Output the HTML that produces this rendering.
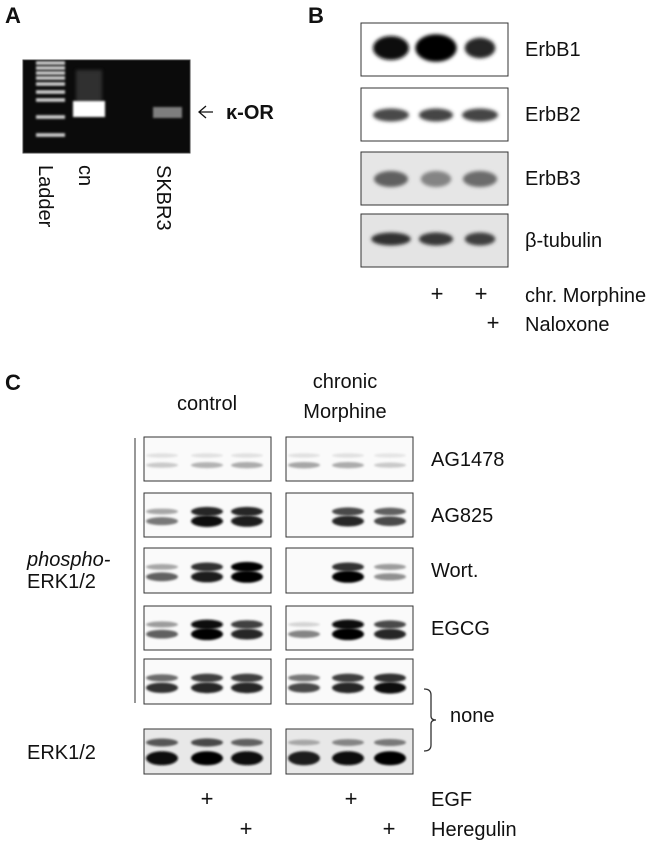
<!DOCTYPE html>
<html><head><meta charset="utf-8"><style>
html,body{margin:0;padding:0;background:#fff}
svg{display:block}
text{font-family:"Liberation Sans",Arial,sans-serif;fill:#111}
</style></head><body>
<svg id="fig" width="662" height="847" viewBox="0 0 662 847" xmlns="http://www.w3.org/2000/svg">
<defs>
<filter id="b2" x="-50%" y="-100%" width="200%" height="300%"><feGaussianBlur stdDeviation="1.8"/></filter>
<filter id="b1" x="-50%" y="-100%" width="200%" height="300%"><feGaussianBlur stdDeviation="1.1"/></filter>
</defs>
<!-- Panel A -->
<text x="5" y="23" font-size="22" font-weight="bold">A</text>
<rect x="23" y="60" width="167" height="93" fill="#0b0b0b" stroke="#444"/>
<g id="gelBands"></g>
<text transform="translate(39,165) rotate(90)" font-size="20">Ladder</text>
<text transform="translate(79,165) rotate(90)" font-size="20">cn</text>
<text transform="translate(157,165) rotate(90)" font-size="20">SKBR3</text>
<path d="M213,112 H199 M206,106 L199,112 L206,118" stroke="#111" stroke-width="1.3" fill="none"/>
<text x="226" y="119" font-size="20" font-weight="bold">κ-OR</text>
<!-- Panel B -->
<text x="308" y="23" font-size="22" font-weight="bold">B</text>
<g id="panelB"></g>
<text x="437" y="301" font-size="22" text-anchor="middle">+</text>
<text x="481" y="301" font-size="22" text-anchor="middle">+</text>
<text x="525" y="302" font-size="20">chr. Morphine</text>
<text x="493" y="330" font-size="22" text-anchor="middle">+</text>
<text x="525" y="331" font-size="20">Naloxone</text>
<!-- Panel C -->
<text x="5" y="390" font-size="22" font-weight="bold">C</text>
<text x="207" y="410" font-size="20" text-anchor="middle">control</text>
<text x="345" y="388" font-size="20" text-anchor="middle">chronic</text>
<text x="345" y="418" font-size="20" text-anchor="middle">Morphine</text>
<line x1="135" y1="438" x2="135" y2="703" stroke="#777" stroke-width="1.5"/>
<text x="27" y="566" font-size="20" font-style="italic">phospho-</text>
<text x="27" y="588" font-size="20">ERK1/2</text>
<text x="27" y="759" font-size="20">ERK1/2</text>
<g id="panelC"></g>
<path d="M424,689 Q431,689 431,695 V716 Q431,720 436,720 Q431,720 431,724 V745 Q431,751 424,751" stroke="#333" stroke-width="1.3" fill="none"/>
<text x="450" y="722" font-size="20">none</text>
<text x="207" y="806" font-size="22" text-anchor="middle">+</text>
<text x="351" y="806" font-size="22" text-anchor="middle">+</text>
<text x="431" y="806" font-size="20">EGF</text>
<text x="246" y="836" font-size="22" text-anchor="middle">+</text>
<text x="389" y="836" font-size="22" text-anchor="middle">+</text>
<text x="431" y="836" font-size="20">Heregulin</text>
</svg>
<script>
// Panel A gel data
const ladderRows = [63,68,73,78,84,92,100,117,135];
const cnBand = [101,117,1.0];
const skbrBand = [107,118,0.55];
// Panel B data
const bProteins = ["ErbB1","ErbB2","ErbB3","β-tubulin"];
const bIntensity = [[0.97,1.0,0.85],[0.7,0.72,0.72],[0.6,0.45,0.55],[0.8,0.78,0.75]];
const bWidthFactor = [[1.0,1.15,0.85],[1.0,0.95,1.0],[0.95,0.85,0.95],[1.1,0.95,0.85]];
// Panel C data (upper band, lower band per lane)
const cRows = ["AG1478","AG825","Wort.","EGCG","none","ERK1/2"];
const cUpperCtl = [[0.05,0.05,0.05],[0.3,0.85,0.85],[0.3,0.8,1.0],[0.35,0.95,0.75],[0.55,0.75,0.75],[0.65,0.7,0.6]];
const cLowerCtl = [[0.15,0.25,0.28],[0.5,0.95,0.9],[0.6,0.9,1.0],[0.6,1.0,0.85],[0.8,0.85,0.85],[0.95,1.0,0.95]];
const cUpperMor = [[0.05,0.05,0.03],[0.0,0.7,0.6],[0.0,0.8,0.35],[0.1,0.95,0.7],[0.5,0.75,0.8],[0.3,0.45,0.5]];
const cLowerMor = [[0.3,0.28,0.15],[0.0,0.85,0.7],[0.0,1.0,0.4],[0.45,1.0,0.85],[0.7,0.85,0.95],[0.9,0.95,1.0]];

const NS="http://www.w3.org/2000/svg";
function mk(tag,attrs,parent){const e=document.createElementNS(NS,tag);for(const k in attrs)e.setAttribute(k,attrs[k]);parent.appendChild(e);return e;}
function shade(v){const g=Math.round(235-v*230);return `rgb(${g},${g},${g})`;}

// Gel
const gel=document.getElementById('gelBands');
ladderRows.forEach((y,i)=>{
  const r=mk('rect',{x:36,y:y-1.8,width:29,height:3.6,fill:'#ccc',filter:'url(#b1)'},gel);
  
  
});
const smear=mk('rect',{x:76,y:70,width:26,height:32,fill:'#555',opacity:0.5,filter:'url(#b2)'},gel);


const cnb=mk('rect',{x:73,y:cnBand[0],width:32,height:cnBand[1]-cnBand[0],fill:'#fff',opacity:cnBand[2],filter:'url(#b1)'},gel);


const skb=mk('rect',{x:153,y:skbrBand[0],width:29,height:skbrBand[1]-skbrBand[0],fill:'#ddd',opacity:skbrBand[2],filter:'url(#b1)'},gel);



// Panel B
const pB=document.getElementById('panelB');
const bTops=[23,88,152,214], bBg=['#fff','#fff','#e6e6e6','#e4e4e4'], bLanes=[391,436,480];
bProteins.forEach((p,i)=>{
  const g=mk('g',{},pB);
  
  
  mk('rect',{x:361,y:bTops[i],width:147,height:53,fill:bBg[i],stroke:'#333','stroke-width':1},g);
  const cy=bTops[i]+(i==0?25:(i==3?25:27));
  bLanes.forEach((x,j)=>{
    const v=bIntensity[i][j], w=bWidthFactor[i][j];
    const h=i==0?12*w:(i==2?8:6.5);
    const e=mk('ellipse',{cx:x,cy:cy,rx:18*w,ry:h,fill:shade(v),filter:'url(#b2)'},g);
    
    
  });
  const t=mk('text',{x:525,y:bTops[i]+33,'font-size':20},pB);
  t.textContent=p;
  
  
});

// Panel C
const pC=document.getElementById('panelC');
const cTops=[437,493,548,606,659,729], cH=[44,44,45,44,45,45];
const panels=[{x0:144,lanes:[162,207,247],up:cUpperCtl,lo:cLowerCtl},{x0:286,lanes:[304,348,390],up:cUpperMor,lo:cLowerMor}];
cRows.forEach((r,i)=>{
  panels.forEach((P,pi)=>{
    const g=mk('g',{},pC);
    
    
    mk('rect',{x:P.x0,y:cTops[i],width:127,height:cH[i],fill:i==5?'#e8e8e8':'#fafafa',stroke:'#333','stroke-width':1},g);
    const uy=cTops[i]+cH[i]*(i==5?0.3:0.42), ly=cTops[i]+cH[i]*(i==5?0.65:0.64);
    P.lanes.forEach((x,j)=>{
      const u=P.up[i][j], l=P.lo[i][j];
      if(u>0){const e=mk('ellipse',{cx:x,cy:uy,rx:16,ry:2+u*3,fill:shade(u),filter:'url(#b1)'},g);
        
        }
      if(l>0){const e=mk('ellipse',{cx:x,cy:ly,rx:16,ry:i==5?7:2+l*4,fill:shade(l),filter:'url(#b1)'},g);
        
        }
    });
  });
  if(i<4){const t=mk('text',{x:431,y:cTops[i]+29,'font-size':20},pC);
    t.textContent=r;
    
    }
});
</script>
</body></html>
